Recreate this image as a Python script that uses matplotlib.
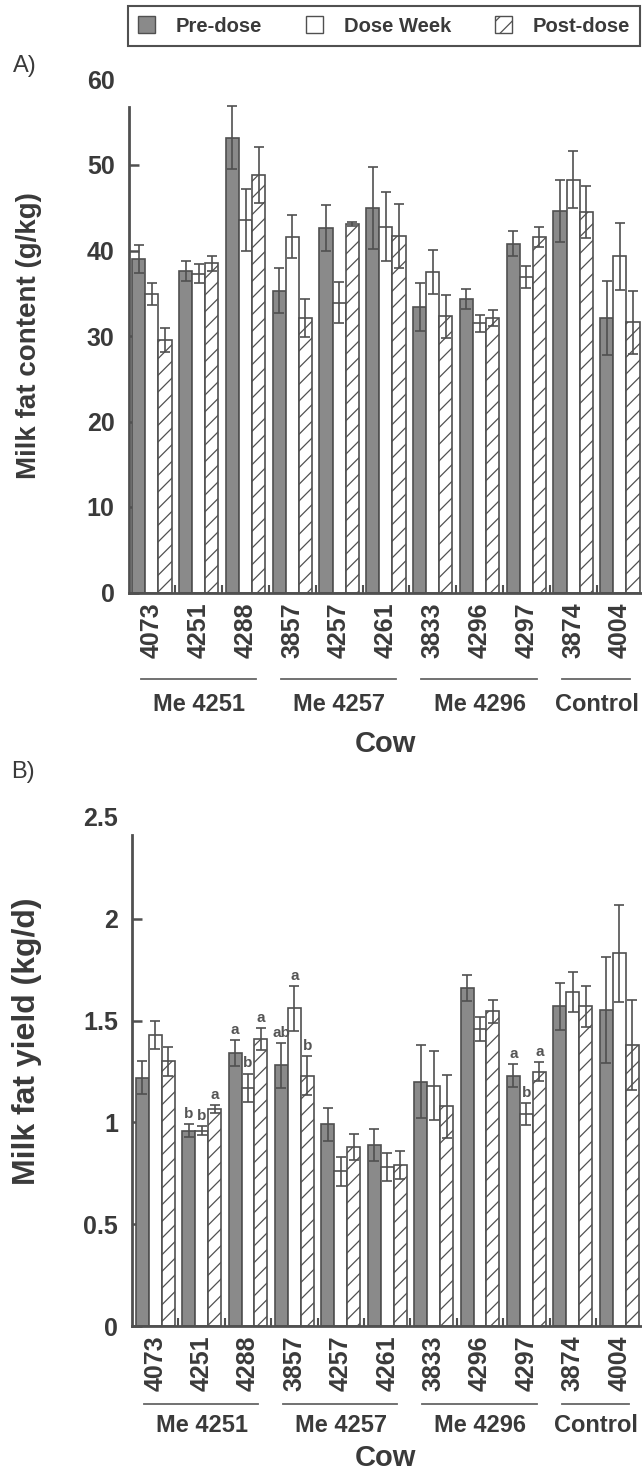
import matplotlib
matplotlib.use('Agg')
import numpy as np
import matplotlib.pyplot as plt
from matplotlib.patches import Patch

plt.rcParams['font.family'] = ['Liberation Sans', 'DejaVu Sans']
plt.rcParams['hatch.linewidth'] = 0.9

cows = ['4073', '4251', '4288', '3857', '4257', '4261', '3833', '4296', '4297', '3874', '4004']
groups = ['Me 4251', 'Me 4257', 'Me 4296', 'Control']
group_first = [0, 3, 6, 9]
group_last = [2, 5, 8, 10]
periods = ['Pre-dose', 'Dose Week', 'Post-dose']

# milk fat content (g/kg)
fat_pre = [39.0, 37.6, 53.2, 35.3, 42.6, 45.0, 33.4, 34.3, 40.8, 44.6, 32.1]
fat_pre_se = [1.6, 1.2, 3.7, 2.6, 2.7, 4.8, 2.8, 1.2, 1.5, 3.6, 4.3]
fat_dose = [34.9, 37.3, 43.6, 41.6, 33.9, 42.8, 37.5, 31.5, 36.9, 48.3, 39.3]
fat_dose_se = [1.3, 1.1, 3.6, 2.5, 2.4, 4.0, 2.6, 1.0, 1.3, 3.3, 3.9]
fat_post = [29.5, 38.5, 48.8, 32.1, 43.1, 41.7, 32.3, 32.1, 41.6, 44.5, 31.6]
fat_post_se = [1.4, 0.9, 3.3, 2.2, 0.2, 3.7, 2.5, 0.9, 1.2, 3.0, 3.7]

# milk fat yield (kg/d)
yld_pre = [1.22, 0.96, 1.34, 1.28, 0.99, 0.89, 1.20, 1.66, 1.23, 1.57, 1.55]
yld_pre_se = [0.08, 0.03, 0.065, 0.11, 0.08, 0.08, 0.18, 0.065, 0.055, 0.115, 0.26]
yld_dose = [1.43, 0.96, 1.17, 1.56, 0.76, 0.78, 1.18, 1.46, 1.04, 1.64, 1.83]
yld_dose_se = [0.07, 0.02, 0.07, 0.11, 0.07, 0.07, 0.17, 0.06, 0.055, 0.10, 0.24]
yld_post = [1.30, 1.065, 1.41, 1.23, 0.88, 0.79, 1.08, 1.545, 1.25, 1.57, 1.38]
yld_post_se = [0.07, 0.02, 0.055, 0.095, 0.065, 0.07, 0.155, 0.055, 0.045, 0.10, 0.22]

let_pre = ['', 'b', 'a', 'ab', '', '', '', '', 'a', '', '']
let_dose = ['', 'b', 'b', 'a', '', '', '', '', 'b', '', '']
let_post = ['', 'a', 'a', 'b', '', '', '', '', 'a', '', '']

W, H = 642, 1481
txt = '#3a3a3a'
ec = '#505050'
pre_col = '#8a8a8a'
styles = [dict(color=pre_col, hatch=None),
          dict(color='white', hatch=None),
          dict(color='white', hatch='//')]
bw = 0.28
offs = [-bw, 0, bw]

fig = plt.figure(figsize=(W / 100, H / 100), dpi=100)


def panel(left_px, step_px, zero_px, top_px, ymax, spine_top, data, yticks, yticklabels,
          ylabel, ylab_size, ylab_y, line_dy, grp_dy, cow_dy, letters=None):
    right_px = 650
    ax = fig.add_axes([left_px / W, 1 - zero_px / H, (right_px - left_px) / W, (zero_px - top_px) / H])
    hpx = zero_px - top_px
    x = np.arange(len(cows))
    for k, (vals, errs) in enumerate(data):
        st = styles[k]
        ax.bar(x + offs[k], vals, bw, color=st['color'], edgecolor=ec, hatch=st['hatch'],
               linewidth=1.2, zorder=2)
        ax.errorbar(x + offs[k], vals, yerr=errs, fmt='none', ecolor=ec, elinewidth=1.2,
                    capsize=3.5, capthick=1.2, zorder=3)
        if letters is not None:
            for i, s in enumerate(letters[k]):
                if s:
                    ax.text(x[i] + offs[k], vals[i] + errs[i] + ymax * 0.006, s, ha='center',
                            va='bottom', fontsize=11, fontweight='bold', color='#555555')
    ax.set_xlim(-0.5, (right_px - left_px) / step_px - 0.5)
    ax.set_ylim(0, ymax)
    for s in ['top', 'right']:
        ax.spines[s].set_visible(False)
    for s in ['left', 'bottom']:
        ax.spines[s].set_color(ec)
        ax.spines[s].set_linewidth(2)
    ax.spines['left'].set_bounds(0, spine_top)
    ax.set_yticks(yticks)
    ax.set_yticklabels(yticklabels)
    ax.yaxis.get_major_ticks()[-1].tick1line.set_visible(False)
    ax.tick_params(axis='y', direction='in', length=7, width=1.8, color=ec, pad=10,
                   labelsize=18, labelcolor=txt)
    ax.set_xticks(x)
    ax.set_xticklabels(cows, rotation=90)
    ax.tick_params(axis='x', length=0, pad=7, labelsize=18, labelcolor=txt)
    ax.set_xticks(x[:-1] + 0.5, minor=True)
    ax.tick_params(axis='x', which='minor', direction='in', length=6, width=1.5, color=ec)
    for lab in ax.get_xticklabels() + ax.get_yticklabels():
        lab.set_fontweight('bold')
    tr = ax.get_xaxis_transform()
    for g, a, b in zip(groups, group_first, group_last):
        ax.plot([a - 0.24, b + 0.22], [-line_dy / hpx] * 2, color='#666666', lw=1.3,
                transform=tr, clip_on=False)
        ax.text((a + b) / 2, -grp_dy / hpx, g, transform=tr, ha='center', va='center',
                fontsize=17, fontweight='bold', color=txt)
    cow_x = (385 - left_px) / step_px - 0.5
    ax.text(cow_x, -cow_dy / hpx, 'Cow', transform=tr, ha='center',
            va='center', fontsize=21, fontweight='bold', color=txt)
    ax.set_ylabel(ylabel, fontsize=ylab_size, fontweight='bold', color=txt)
    ax.yaxis.set_label_coords((42 - left_px) / (right_px - left_px), ylab_y)
    return ax


panel(128.5, 46.8, 592.5, 79.5, 60, 56.8,
      [(fat_pre, fat_pre_se), (fat_dose, fat_dose_se), (fat_post, fat_post_se)],
      [0, 10, 20, 30, 40, 50, 60], ['0', '10', '20', '30', '40', '50', '60'],
      'Milk fat content (g/kg)', 20, 0.5, 86, 112, 152)

panel(132, 46.4, 1326, 817, 2.5, 2.41,
      [(yld_pre, yld_pre_se), (yld_dose, yld_dose_se), (yld_post, yld_post_se)],
      [0, 0.5, 1, 1.5, 2, 2.5], ['0', '0.5', '1', '1.5', '2', '2.5'],
      'Milk fat yield (kg/d)', 23, 0.56, 78, 100, 132,
      letters=[let_pre, let_dose, let_post])

fig.text(25 / W, 1 - 66 / H, 'A)', fontsize=17, ha='center', va='center', color=txt)
fig.text(23 / W, 1 - 772 / H, 'B)', fontsize=17, ha='center', va='center', color=txt)

handles = [Patch(facecolor=pre_col, edgecolor=ec, linewidth=1.0),
           Patch(facecolor='white', edgecolor=ec, linewidth=1.0),
           Patch(facecolor='white', edgecolor=ec, linewidth=1.0, hatch='//')]
leg = fig.legend(handles, periods, loc='center', bbox_to_anchor=(384 / W, 1 - 26 / H), ncol=3,
                 prop={'weight': 'bold', 'size': 14.5}, handlelength=0.85,
                 handleheight=0.85, handletextpad=1.0, columnspacing=2.2, borderpad=0.5,
                 fancybox=False, framealpha=1, edgecolor=ec)
leg.get_frame().set_linewidth(1.5)
for t in leg.get_texts():
    t.set_color(txt)

fig.savefig('out.png', dpi=100)
